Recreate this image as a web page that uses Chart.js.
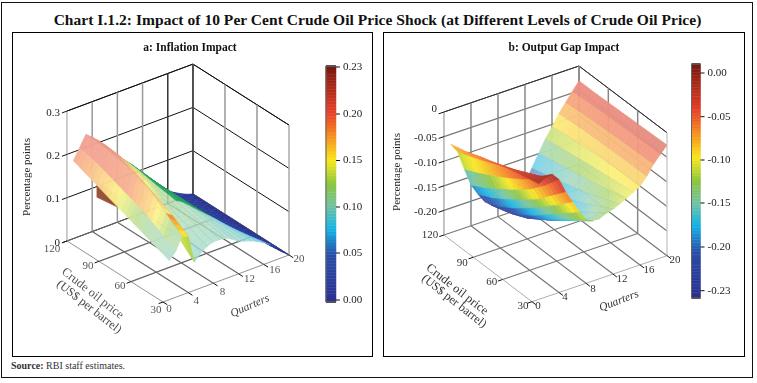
<!DOCTYPE html>
<html>
<head>
<meta charset="utf-8">
<script src="https://cdn.jsdelivr.net/npm/chart.js@4/dist/chart.umd.js"></script>
<style>
  html, body { margin: 0; padding: 0; background: #fff; }
  body { position: relative; width: 757px; height: 383px; overflow: hidden; font-family: "Liberation Serif", serif; }
  .frame { position: absolute; left: 1px; top: 2px; width: 750px; height: 374px; border: 1.5px solid #111; }
  .panel { position: absolute; top: 32px; height: 325px; border: 1px solid #000; box-sizing: border-box; }
  canvas { position: absolute; top: 32px; }
  #title { position: absolute; left: 0; width: 755px; top: 11px; text-align: center; font-weight: bold; font-size: 15.5px; color: #111; letter-spacing: .04px; white-space: nowrap; }
  #source { position: absolute; left: 11px; top: 360px; font-size: 10px; color: #333; }
</style>
</head>
<body>
<div class="frame"></div>
<div id="title">Chart I.1.2: Impact of 10 Per Cent Crude Oil Price Shock (at Different Levels of Crude Oil Price)</div>
<div class="panel" style="left:12px;width:361px"></div>
<div class="panel" style="left:383px;width:362px"></div>
<canvas id="inflation" width="361" height="325" style="left:12px"></canvas>
<canvas id="output" width="362" height="325" style="left:383px"></canvas>
<div id="source"><b>Source:</b> RBI staff estimates.</div>

<script>
const prices = [120, 105, 90, 75, 60, 45, 30];
const quarters = [1, 2, 3, 4, 5, 6, 7, 8, 9, 10, 11, 12, 13, 14, 15, 16, 17, 18, 19, 20];

// a: inflation impact, one row per oil price
const inflationAt120 = [.18, .205, .23, .218, .205, .19, .172, .155, .14, .125, .108, .09, .075, .06, .045, .03, .02, .012, .005, 0];
const inflationAt105 = [.165, .195, .228, .215, .2, .185, .168, .15, .136, .122, .105, .09, .075, .06, .045, .03, .02, .012, .005, 0];
const inflationAt90 = [.15, .18, .222, .205, .185, .17, .155, .14, .128, .118, .103, .088, .074, .06, .045, .03, .02, .012, .005, 0];
const inflationAt75 = [.135, .165, .212, .19, .16, .15, .14, .13, .122, .113, .1, .086, .073, .06, .047, .033, .022, .013, .005, 0];
const inflationAt60 = [.12, .15, .195, .175, .135, .125, .12, .118, .113, .107, .097, .085, .073, .062, .05, .037, .027, .016, .006, 0];
const inflationAt45 = [.105, .13, .165, .155, .1, .1, .105, .107, .105, .1, .091, .08, .072, .063, .054, .044, .033, .022, .008, 0];
const inflationAt30 = [.09, .105, .135, .13, .065, .08, .09, .095, .095, .093, .085, .075, .07, .065, .058, .05, .04, .03, .012, 0];

// b: output gap impact
const outputAt120 = [-.07, -.09, -.13, -.167, -.19, -.21, -.222, -.23, -.232, -.23, -.218, -.2, -.175, -.15, -.125, -.105, -.083, -.065, -.047, -.03];
const outputAt105 = [-.062, -.078, -.115, -.15, -.175, -.197, -.212, -.222, -.225, -.222, -.21, -.19, -.167, -.143, -.12, -.1, -.08, -.062, -.045, -.03];
const outputAt90 = [-.05, -.065, -.098, -.13, -.155, -.178, -.196, -.208, -.212, -.208, -.196, -.178, -.158, -.136, -.115, -.097, -.078, -.06, -.043, -.029];
const outputAt75 = [-.04, -.05, -.08, -.108, -.133, -.155, -.175, -.188, -.194, -.19, -.18, -.165, -.148, -.13, -.11, -.094, -.077, -.058, -.042, -.028];
const outputAt60 = [-.03, -.037, -.06, -.085, -.11, -.13, -.15, -.165, -.172, -.17, -.163, -.152, -.138, -.122, -.106, -.092, -.076, -.057, -.041, -.027];
const outputAt45 = [-.022, -.022, -.035, -.055, -.08, -.103, -.125, -.142, -.15, -.15, -.143, -.135, -.125, -.114, -.102, -.091, -.075, -.056, -.04, -.026];
const outputAt30 = [-.015, -.008, -.005, -.02, -.05, -.075, -.1, -.12, -.128, -.128, -.122, -.118, -.112, -.105, -.098, -.09, -.075, -.055, -.04, -.025];

// small dark fold under the inflation ridge
const foldPrices = [92, 73];
const foldTop = [.18, .18];
const foldBottom = [.145, .152];

const priceTicks = [30, 60, 90, 120];
const quarterTicks = [0, 4, 8, 12, 16, 20];
const inflationZTicks = [0, .1, .2, .3];
const outputZTicks = [-.2, -.15, -.1, -.05, 0];
const inflationBarTicks = [0, .05, .1, .15, .2, .23];
const outputBarTicks = [-.23, -.2, -.15, -.1, -.05, 0];

// colour bar stops, bottom to top
const barColors = ["#2b2f8f", "#2a4fa8", "#14b4e6", "#74c3a0", "#8cc63f", "#f8e71c", "#f58220", "#e8432a", "#7a1710"];
const barPositions = [0, .2, .31, .41, .5, .6, .72, .8, 1];

function colorAt(t, alpha, whiten) {
  t = Math.max(0, Math.min(1, t));
  const w = whiten || 0;
  let i = 0;
  while (i < barPositions.length - 2 && t > barPositions[i + 1]) i++;
  const f = (t - barPositions[i]) / (barPositions[i + 1] - barPositions[i]);
  const a = parseInt(barColors[i].slice(1), 16), b = parseInt(barColors[i + 1].slice(1), 16);
  const mix = (s) => Math.round(((a >> s & 255) * (1 - f) + (b >> s & 255) * f) * (1 - w) + 255 * w);
  return `rgba(${mix(16)},${mix(8)},${mix(0)},${alpha})`;
}

function line(pts, color, width) {
  return { data: pts, showLine: true, borderColor: color, borderWidth: width, pointRadius: 0, tension: 0, fill: false };
}
function poly(pts, color) {
  return { data: pts.concat([pts[0]]), showLine: true, backgroundColor: color, borderColor: color, borderWidth: .5, pointRadius: 0, tension: 0, fill: "shape" };
}

function buildPanel(cfg) {
  const P = (q, p, z) => ({
    x: cfg.front.x + q * cfg.perQuarter.x + (p - 30) * cfg.perPrice.x,
    y: cfg.front.y + q * cfg.perQuarter.y + (p - 30) * cfg.perPrice.y - (z - cfg.zMin) * cfg.zScale
  });
  const sets = [];
  const texts = [];
  const g = cfg.grid;

  // walls
  cfg.zTicks.concat(cfg.zMax).forEach((z) => {
    const top = z === cfg.zMax;
    sets.push(line([P(0, 120, z), P(20, 120, z), P(20, 30, z)], top ? g.top : g.wall, top ? 1 : g.wallWidth));
  });
  priceTicks.forEach((p) => {
    sets.push(line([P(20, p, cfg.zMin), P(20, p, cfg.zMax)], p === 30 ? g.rightEdge : g.vertical, 1.5));
    sets.push(line([P(0, p, cfg.zMin), P(20, p, cfg.zMin)], p === 30 ? g.edge : g.floor, p === 30 ? .8 : 1.2));
  });
  quarterTicks.forEach((q) => {
    sets.push(line([P(q, 120, cfg.zMin), P(q, 120, cfg.zMax)], q >= 16 ? g.dark : g.vertical, q === 0 ? 1 : 1.5));
    sets.push(line([P(q, 30, cfg.zMin), P(q, 120, cfg.zMin)], q === 0 ? g.edge : g.floor, q === 0 ? .8 : 1.2));
  });

  // ticks and tick labels
  cfg.zTicks.forEach((z) => {
    sets.push(line([P(0, 120, z), P(-.8, 120, z)], "#111", 1));
    const a = P(-.8, 120, z);
    texts.push({ text: cfg.zFormat(z), x: cfg.zLabelX, y: a.y - (z === 0 && cfg.zTicks.length > 4 ? 5 : 0), align: "right" });
  });
  priceTicks.forEach((p, i) => {
    sets.push(line([P(0, p, cfg.zMin), P(-.7, p, cfg.zMin)], "#111", 1));
    const a = P(0, p, cfg.zMin), o = cfg.priceLabelOffset[i];
    texts.push({ text: String(p), x: a.x + o[0], y: a.y + o[1], color: cfg.priceColor });
  });
  quarterTicks.forEach((q, i) => {
    sets.push(line([P(q, 30, cfg.zMin), P(q, 26, cfg.zMin)], "#111", 1));
    const a = P(q, 30, cfg.zMin), o = cfg.quarterLabelOffset[i];
    texts.push({ text: String(q), x: a.x + o[0], y: a.y + o[1], color: cfg.priceColor });
  });

  // surface, far corner first so nearer facets paint over it
  if (cfg.fold) {
    const f = cfg.fold;
    sets.push(poly([P(0, f.p[0], f.top[0]), P(0, f.p[1], f.top[1]), P(0, f.p[1], f.bottom[1]), P(0, f.p[0], f.bottom[0])], "#96553a"));
  }
  const sub = 4; // each facet is split along the price direction so the colour runs smoothly
  for (let r = 0; r < prices.length - 1; r++) {
    for (let s = 0; s < sub; s++) {
      const at = (c, k) => cfg.rows[r][c] + (cfg.rows[r + 1][c] - cfg.rows[r][c]) * k;
      const k0 = s / sub, k1 = (s + 1) / sub;
      const p0 = prices[r] + (prices[r + 1] - prices[r]) * k0;
      const p1 = prices[r] + (prices[r + 1] - prices[r]) * k1;
      for (let c = quarters.length - 2; c >= 0; c--) {
        const q0 = quarters[c], q1 = quarters[c + 1];
        const z = [at(c, k0), at(c + 1, k0), at(c + 1, k1), at(c, k1)];
        const mean = (z[0] + z[1] + z[2] + z[3]) / 4;
        sets.push(poly([P(q0, p0, z[0]), P(q1, p0, z[1]), P(q1, p1, z[2]), P(q0, p1, z[3])], cfg.facet(q0, p0, mean)));
        if (q0 >= cfg.ribFrom) sets.push(line([P(q0, p0, z[0]), P(q0, p1, z[3])], cfg.rib, .6));
      }
    }
  }

  // colour bar
  const bar = cfg.bar;
  const steps = 80;
  for (let i = 0; i < steps; i++) {
    const y0 = bar.bottom + (bar.top - bar.bottom) * i / steps;
    const y1 = bar.bottom + (bar.top - bar.bottom) * (i + 1) / steps;
    sets.push(poly([{ x: bar.left, y: y0 }, { x: bar.right, y: y0 }, { x: bar.right, y: y1 }, { x: bar.left, y: y1 }], colorAt((i + .5) / steps, 1)));
  }
  sets.push(line([{ x: bar.left, y: bar.bottom }, { x: bar.left, y: bar.top }], "#666", 1));
  sets.push(line([{ x: bar.left, y: bar.top }, { x: bar.right, y: bar.top }], "#555", 2));
  sets.push(line([{ x: bar.left, y: bar.bottom }, { x: bar.right, y: bar.bottom }], "#555", 2));
  cfg.barTicks.forEach((v, i) => {
    const y = bar.tickY[i];
    sets.push(line([{ x: bar.right, y }, { x: bar.right + 4, y }], "#111", 1));
    texts.push({ text: v.toFixed(2), x: bar.right + 7, y: y, align: "left" });
  });

  texts.push(...cfg.notes);

  const labels = {
    id: "labels",
    afterDraw(chart) {
      const ctx = chart.ctx, sx = chart.scales.x, sy = chart.scales.y;
      texts.forEach((t) => {
        ctx.save();
        ctx.translate(sx.getPixelForValue(t.x), sy.getPixelForValue(t.y));
        ctx.rotate((t.rot || 0) * Math.PI / 180);
        ctx.font = t.font || '11px "Liberation Serif"';
        ctx.fillStyle = t.color || "#222";
        ctx.textAlign = t.align || "center";
        ctx.textBaseline = "middle";
        ctx.fillText(t.text, 0, 0);
        ctx.restore();
      });
    }
  };

  new Chart(document.getElementById(cfg.id), {
    type: "scatter",
    data: { datasets: sets.reverse() },
    plugins: [labels],
    options: {
      responsive: false,
      animation: false,
      events: [],
      layout: { padding: 0 },
      plugins: { legend: { display: false }, tooltip: { enabled: false } },
      scales: {
        x: { type: "linear", display: false, min: cfg.box.left, max: cfg.box.right },
        y: { type: "linear", display: false, min: cfg.box.top, max: cfg.box.bottom, reverse: true }
      }
    }
  });
}

function barPosition(ticks, tickT) {
  return (v) => {
    let i = 0;
    while (i < ticks.length - 2 && v > ticks[i + 1]) i++;
    return tickT[i] + (v - ticks[i]) / (ticks[i + 1] - ticks[i]) * (tickT[i + 1] - tickT[i]);
  };
}

const inflationTone = barPosition([0, .02, .04, .05, .07, .1, .13, .16, .19, .23], [.02, .08, .2, .31, .38, .41, .46, .62, .76, .82]);
const outputTone = barPosition(outputBarTicks, [0, .16, .38, .59, .775, .96]);

buildPanel({
  id: "inflation",
  box: { left: 12, right: 373, top: 32, bottom: 357 },
  front: { x: 163, y: 302 },
  perQuarter: { x: 6.3, y: -2.35 },
  perPrice: { x: -1.067, y: -.678 },
  zScale: 433, zMin: 0, zMax: .3,
  rows: [inflationAt120, inflationAt105, inflationAt90, inflationAt75, inflationAt60, inflationAt45, inflationAt30],
  fold: { p: foldPrices, top: foldTop, bottom: foldBottom },
  zTicks: inflationZTicks,
  zFormat: (z) => String(z),
  zLabelX: 60,
  facet(q, p, z) {
    if (q < 3) return colorAt(inflationTone(z), .97, .5);
    if (q < 5 && p <= 45) return colorAt(inflationTone(z) + .12, 1, .12);
    if (q < 5) return colorAt(inflationTone(z), .97, .45);
    if (q >= 9 && q < 15 && p >= 75) return "rgba(39,163,95,.95)";
    if (z < .04) return colorAt(inflationTone(z), 1, 0);
    return colorAt(inflationTone(z), .8, .42);
  },
  ribFrom: 3,
  rib: "rgba(40,130,90,.35)",
  grid: { wall: "#111", wallWidth: 1, top: "#111", vertical: "#999", dark: "#333", floor: "#666", edge: "#777", rightEdge: "#aaa" },
  priceColor: "#555",
  priceLabelOffset: [[-7, 8], [-11, 4], [-11, 5], [-15, 8]],
  quarterLabelOffset: [[6, 7], [8, 9], [9, 9], [11, 5], [11, 6], [10, 4]],
  bar: { left: 326, right: 336, top: 66, bottom: 302, tickY: [300, 253, 207, 160.5, 114, 67] },
  barTicks: inflationBarTicks,
  notes: [
    { text: "a: Inflation Impact", x: 190, y: 48, font: 'bold 11.5px "Liberation Serif"', color: "#111" },
    { text: "Percentage points", x: 27, y: 177, rot: -90, color: "#222" },
    { text: "Quarters", x: 250, y: 306, rot: -24, font: 'italic 11.5px "Liberation Serif"', color: "#444" },
    { text: "Crude oil price", x: 92.5, y: 293.5, rot: 38, font: '12.5px "Liberation Serif"', color: "#555" },
    { text: "(US$ per barrel)", x: 89, y: 307, rot: 38, font: '12px "Liberation Serif"', color: "#444" }
  ]
});

buildPanel({
  id: "output",
  box: { left: 383, right: 745, top: 32, bottom: 357 },
  front: { x: 532, y: 301.7 },
  perQuarter: { x: 6.75, y: -2.3 },
  perPrice: { x: -.978, y: -.741 },
  zScale: 492, zMin: -.25, zMax: 0,
  rows: [outputAt120, outputAt105, outputAt90, outputAt75, outputAt60, outputAt45, outputAt30],
  zTicks: outputZTicks,
  zFormat: (z) => (z === 0 ? "0" : z.toFixed(2)),
  zLabelX: 437,
  facet(q, p, z) {
    return q < 9 ? colorAt(outputTone(z), 1, .08) : colorAt(outputTone(z), .97, .42);
  },
  ribFrom: 9,
  rib: "rgba(70,80,60,.3)",
  grid: { wall: "#777", wallWidth: 1.2, top: "#333", vertical: "#888", dark: "#888", floor: "#777", edge: "#999", rightEdge: "#ccc" },
  priceColor: "#333",
  priceLabelOffset: [[-9, 4], [-11, 3], [-11, 6], [-14, 0]],
  quarterLabelOffset: [[6, 4], [6, 5], [7, 6], [9, 5], [9, 5], [8, 4]],
  bar: { left: 691.5, right: 700.5, top: 64, bottom: 298, tickY: [290.7, 247, 203, 160, 116.7, 73] },
  barTicks: outputBarTicks,
  notes: [
    { text: "b: Output Gap Impact", x: 564, y: 48, font: 'bold 11.5px "Liberation Serif"', color: "#111" },
    { text: "Percentage points", x: 397, y: 172, rot: -90, color: "#222" },
    { text: "Quarters", x: 619, y: 301, rot: -21, font: 'italic 11.5px "Liberation Serif"', color: "#333" },
    { text: "Crude oil price", x: 457, y: 289.5, rot: 38, font: '12.5px "Liberation Serif"', color: "#333" },
    { text: "(US$ per barrel)", x: 454, y: 301.5, rot: 38, font: '12px "Liberation Serif"', color: "#333" }
  ]
});
</script>
</body>
</html>
